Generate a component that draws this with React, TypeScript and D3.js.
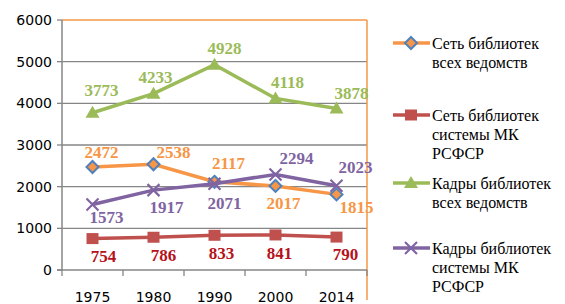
import React from "react";
import * as d3 from "d3";

const years = ["1975", "1980", "1990", "2000", "2014"];
const libNetAll = [2472, 2538, 2117, 2017, 1815];
const libNetMk = [754, 786, 833, 841, 790];
const staffAll = [3773, 4233, 4928, 4118, 3878];
const staffMk = [1573, 1917, 2071, 2294, 2023];
const yTicks = [0, 1000, 2000, 3000, 4000, 5000, 6000];

// label offsets from each point (dx, dy), as placed in the original
const offNetAll = [[9, -15], [20, -12], [14, -19], [8, 17], [20, 13]];
const offNetMk = [[11, 17], [10, 18], [7, 18], [4, 18], [9, 17]];
const offStaffAll = [[9, -23], [2, -17], [10, -17], [12, -16], [15, -15]];
const offStaffMk = [[14, 13], [13, 17], [10, 19], [21, -16], [19, -19]];

const series = [
  { name: ["Сеть библиотек", "всех ведомств"], values: libNetAll, off: offNetAll, color: "#F79646", label: "#F79646", marker: "diamond" },
  { name: ["Сеть библиотек", "системы МК", "РСФСР"], values: libNetMk, off: offNetMk, color: "#C0504D", label: "#B5121B", marker: "square" },
  { name: ["Кадры библиотек", "всех ведомств"], values: staffAll, off: offStaffAll, color: "#9BBB59", label: "#9BBB59", marker: "triangle" },
  { name: ["Кадры библиотек", "системы МК", "РСФСР"], values: staffMk, off: offStaffMk, color: "#8064A2", label: "#8064A2", marker: "x" },
];

const Marker = ({ type, x, y, color }: { type: string; x: number; y: number; color: string }) => {
  if (type === "diamond")
    return <path d={`M${x},${y - 6}L${x + 6},${y}L${x},${y + 6}L${x - 6},${y}Z`} fill={color} stroke="#4F81BD" strokeWidth={2} />;
  if (type === "square")
    return <rect x={x - 6} y={y - 5.5} width={12} height={11} fill={color} />;
  if (type === "triangle")
    return <path d={`M${x},${y - 7}L${x + 7},${y + 5}L${x - 7},${y + 5}Z`} fill={color} />;
  return (
    <g stroke={color} strokeWidth={2.2}>
      <line x1={x - 6} y1={y - 6} x2={x + 6} y2={y + 6} />
      <line x1={x - 6} y1={y + 6} x2={x + 6} y2={y - 6} />
    </g>
  );
};

export default function App() {
  const left = 62, right = 367, top = 20, bottom = 270;
  const x = d3.scaleBand().domain(years).range([left, right]);
  const y = d3.scaleLinear().domain([0, 6000]).range([bottom, top]);
  const cx = (d: string) => x(d)! + x.bandwidth() / 2;
  const line = d3.line<number>().x((_, i) => cx(years[i])).y((v) => y(v));
  const legendY = [43, 115, 183, 248];

  return (
    <svg width={565} height={304} style={{ position: "absolute", left: 0, top: 0 }}>
      <rect width={565} height={304} fill="#fff" />
      {yTicks.slice(1, -1).map((t) => (
        <line key={t} x1={left} x2={right} y1={y(t)} y2={y(t)} stroke="#868686" strokeWidth={1.3} />
      ))}
      <line x1={left} x2={right} y1={top} y2={top} stroke="#F79646" strokeWidth={1.5} />
      <line x1={right} x2={right} y1={top} y2={bottom + 30} stroke="#F79646" strokeWidth={1.5} />
      <line x1={left} x2={left} y1={top} y2={bottom} stroke="#868686" strokeWidth={1.5} />
      <line x1={left - 5} x2={right} y1={bottom} y2={bottom} stroke="#868686" strokeWidth={1.5} />
      {yTicks.map((t) => (
        <g key={t}>
          <line x1={left - 5} x2={left} y1={y(t)} y2={y(t)} stroke="#868686" strokeWidth={1.3} />
          <text x={52} y={y(t) + 5} textAnchor="end" fontFamily="DejaVu Sans" fontSize={14}>{t}</text>
        </g>
      ))}
      {years.map((yr) => (
        <text key={yr} x={cx(yr)} y={302} textAnchor="middle" fontFamily="DejaVu Sans" fontSize={14}>{yr}</text>
      ))}
      {d3.range(years.length + 1).map((i) => (
        <line key={i} x1={left + i * x.bandwidth()} x2={left + i * x.bandwidth()} y1={bottom} y2={bottom + 6} stroke="#868686" strokeWidth={1.3} />
      ))}
      {series.map((s) => (
        <g key={s.name.join(" ")}>
          <path d={line(s.values)!} fill="none" stroke={s.color} strokeWidth={3.5} />
          {s.values.map((v, i) => (
            <Marker key={i} type={s.marker} x={cx(years[i])} y={y(v)} color={s.color} />
          ))}
        </g>
      ))}
      {series.map((s) =>
        s.values.map((v, i) => (
          <text key={s.name.join(" ") + i} x={cx(years[i]) + s.off[i][0]} y={y(v) + s.off[i][1] + 6} fill={s.label}
            fontFamily="serif" fontWeight="bold" fontSize={17} textAnchor="middle">{v}</text>
        ))
      )}
      {series.map((s, k) => (
        <g key={"lg" + k}>
          <line x1={393} x2={430} y1={legendY[k]} y2={legendY[k]} stroke={s.color} strokeWidth={3.5} />
          <Marker type={s.marker} x={411} y={legendY[k]} color={s.color} />
          {s.name.map((ln, j) => (
            <text key={j} x={432} y={legendY[k] + j * 19 + 5.5} fontFamily="serif" fontSize={16}>{ln}</text>
          ))}
        </g>
      ))}
    </svg>
  );
}
